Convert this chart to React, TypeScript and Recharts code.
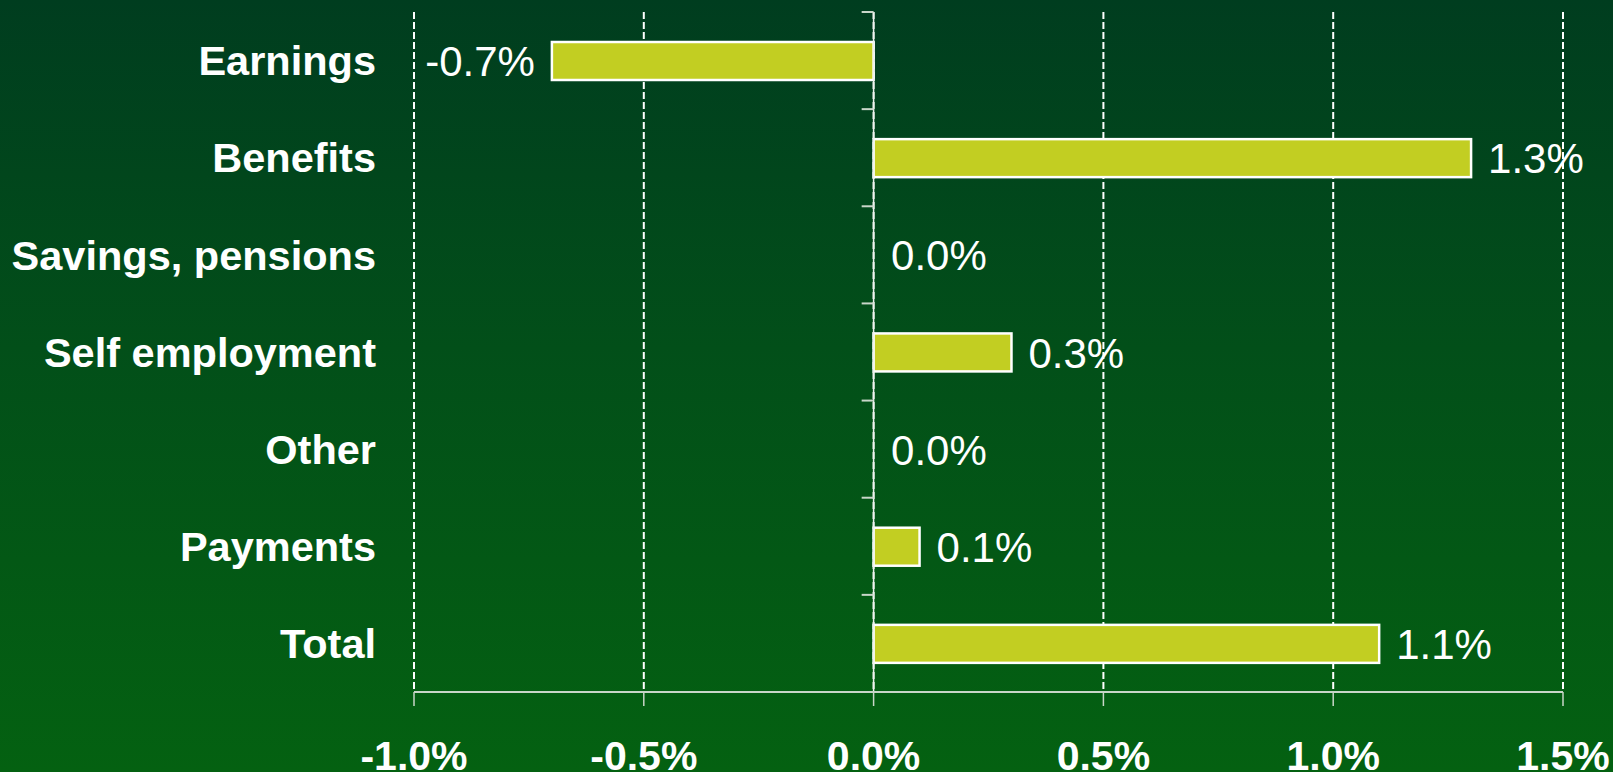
import { BarChart, Bar, XAxis, YAxis, CartesianGrid, ReferenceLine, LabelList } from 'recharts';

const categories = ['Earnings', 'Benefits', 'Savings, pensions', 'Self employment', 'Other', 'Payments', 'Total'];
const changes = [-0.7, 1.3, 0.0, 0.3, 0.0, 0.1, 1.1];
const xTicks = [-1.0, -0.5, 0.0, 0.5, 1.0, 1.5];

const data = categories.map((name, i) => ({ name, value: changes[i] }));

const FONT = '"Liberation Sans", Arial, Helvetica, sans-serif';
const AXIS_GREY = '#c9d6c9';

const pct = (v: number) => `${v.toFixed(1)}%`;

// value label just past the end of the bar (left side for negatives)
function ValueLabel(props: any) {
  const { x, y, width, height, value } = props;
  const left = Math.min(x, x + width);
  const right = Math.max(x, x + width);
  const neg = Number(value) < 0;
  return (
    <text
      x={neg ? left - 17 : right + 17}
      y={y + height / 2}
      dy="0.36em"
      textAnchor={neg ? 'end' : 'start'}
      fill="#ffffff"
      fontFamily={FONT}
      fontSize={42}
    >
      {pct(Number(value))}
    </text>
  );
}

// skip the outline for zero-length bars (they only exist to carry a label)
function BarShape(props: any) {
  const { x, y, width, height, fill } = props;
  if (Math.abs(width) < 1) return <g />;
  const left = Math.min(x, x + width);
  return <rect x={left} y={y} width={Math.abs(width)} height={height} fill={fill} stroke="#ffffff" strokeWidth={2.5} />;
}

export default function App() {
  return (
    <div
      style={{
        position: 'absolute',
        left: 0,
        top: 0,
        width: 1613,
        height: 772,
        overflow: 'hidden',
        background: 'linear-gradient(to bottom, #003d1f 0%, #024f19 45%, #046111 100%)',
      }}
    >
      <BarChart
        layout="vertical"
        width={1613}
        height={800}
        data={data}
        margin={{ top: 12, right: 50, bottom: 0, left: 0 }}
        barSize={38}
      >
        <CartesianGrid horizontal={false} stroke="#ffffff" strokeWidth={2} strokeDasharray="7 3" />
        <XAxis
          type="number"
          domain={[-1.0, 1.5]}
          ticks={xTicks}
          allowDataOverflow
          tickFormatter={pct}
          height={108}
          tickSize={14}
          tickMargin={35}
          axisLine={{ stroke: AXIS_GREY, strokeWidth: 2 }}
          tickLine={{ stroke: AXIS_GREY, strokeWidth: 1.5 }}
          tick={{ fill: '#ffffff', fontFamily: FONT, fontSize: 41, fontWeight: 'bold' }}
        />
        <YAxis
          type="category"
          dataKey="name"
          width={414}
          tickLine={false}
          axisLine={false}
          tickSize={6}
          tickMargin={32}
          interval={0}
          tick={{ fill: '#ffffff', fontFamily: FONT, fontSize: 41.5, fontWeight: 'bold' }}
        />
        <ReferenceLine x={0} stroke="#eef3ee" strokeWidth={1.5} />
        {/* short ticks on the zero line, at the band boundaries */}
        {categories.map((c) => (
          <ReferenceLine
            key={c}
            position="start"
            segment={[
              { x: -0.026, y: c },
              { x: 0, y: c },
            ]}
            stroke={AXIS_GREY}
            strokeWidth={2}
          />
        ))}
        <Bar dataKey="value" fill="#c2ce22" minPointSize={0.5} shape={BarShape} isAnimationActive={false}>
          <LabelList dataKey="value" content={ValueLabel} />
        </Bar>
      </BarChart>
    </div>
  );
}
